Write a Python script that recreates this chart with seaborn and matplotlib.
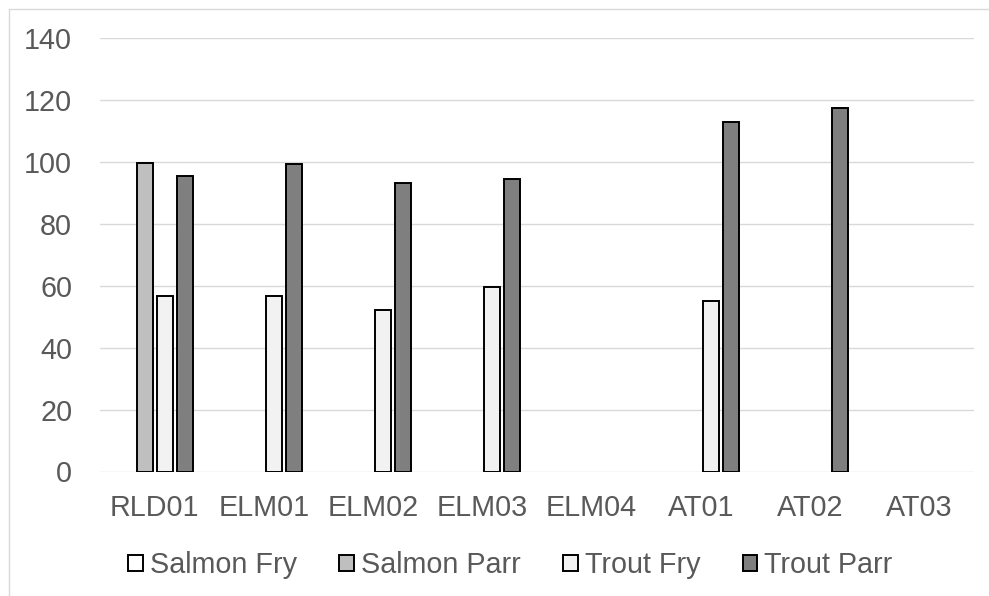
import matplotlib
matplotlib.use("Agg")
import matplotlib.pyplot as plt
import seaborn as sns
import pandas as pd
from matplotlib.patches import Rectangle
from matplotlib.lines import Line2D

sites = ["RLD01", "ELM01", "ELM02", "ELM03", "ELM04", "AT01", "AT02", "AT03"]
series = ["Salmon Fry", "Salmon Parr", "Trout Fry", "Trout Parr"]
salmon_fry = [0, 0, 0, 0, 0, 0, 0, 0]
salmon_parr = [99.5, 0, 0, 0, 0, 0, 0, 0]
trout_fry = [56.7, 56.8, 52.3, 59.6, 0, 55.1, 0, 0]
trout_parr = [95.4, 99.2, 93.1, 94.5, 0, 113.0, 117.5, 0]
colors = ["#FFFFFF", "#BFBFBF", "#F2F2F2", "#7F7F7F"]
y_ticks = [0, 20, 40, 60, 80, 100, 120, 140]

rows = []
for name, vals in zip(series, [salmon_fry, salmon_parr, trout_fry, trout_parr]):
    for s, v in zip(sites, vals):
        rows.append({"Site": s, "Series": name, "Value": v})
df = pd.DataFrame(rows)

sns.set_theme(style="white")
plt.rcParams["font.family"] = ["Liberation Sans", "DejaVu Sans"]

FS = 20.7

fig = plt.figure(figsize=(9.89, 5.96), dpi=100)
ax = fig.add_axes([100 / 989, 1 - 471.5 / 596, 874 / 989, (471.5 - 38) / 596])

sns.barplot(data=df, x="Site", y="Value", hue="Series", order=sites,
            hue_order=series, palette=colors, width=0.732, gap=0.2,
            edgecolor="black", linewidth=1.4, ax=ax, legend=False,
            saturation=1)

for p in ax.patches:
    if p.get_height() == 0:
        p.set_visible(False)

ax.set_ylim(0, 140)
ax.set_xlim(-0.5, len(sites) - 0.5)
ax.set_yticks(y_ticks)
ax.set_yticklabels([str(t) for t in y_ticks])
ax.yaxis.grid(True, color="#D9D9D9", linewidth=1.0)
ax.set_axisbelow(True)
for sp in ax.spines.values():
    sp.set_visible(False)
ax.tick_params(axis="both", length=0, labelsize=FS, labelcolor="#595959")
ax.tick_params(axis="y", pad=20)
ax.tick_params(axis="x", pad=16)
ax.set_xlabel("")
ax.set_ylabel("")

handles = [Rectangle((0, 0), 1, 1, facecolor=c, edgecolor="black", linewidth=1.4)
           for c in colors]
fig.legend(handles, series, loc="center", bbox_to_anchor=(510.5 / 989, 1 - 565 / 596),
           ncol=4, frameon=False, fontsize=FS, handlelength=0.5,
           handleheight=0.5, handletextpad=0.25, columnspacing=1.48,
           labelcolor="#595959")

fig.add_artist(Line2D([9 / 989, 9 / 989], [0, 1 - 9 / 596], color="#D9D9D9",
                      linewidth=1.0, transform=fig.transFigure))
fig.add_artist(Line2D([9 / 989, 1], [1 - 9 / 596, 1 - 9 / 596], color="#D9D9D9",
                      linewidth=1.0, transform=fig.transFigure))

fig.savefig("out.png", dpi=100, facecolor="white")
